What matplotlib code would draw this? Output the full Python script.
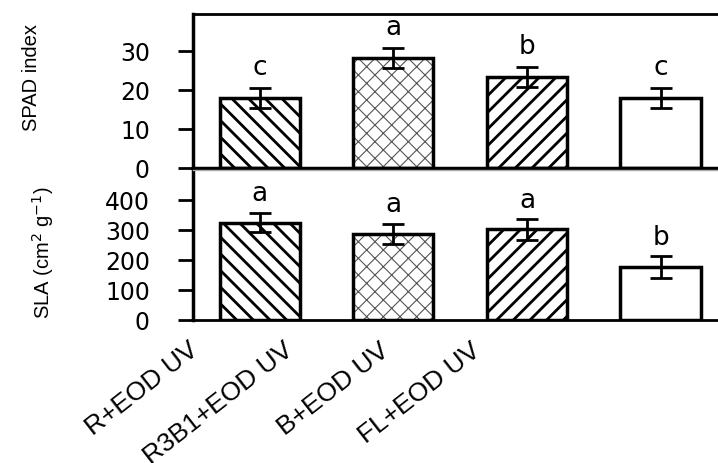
import matplotlib
matplotlib.use("Agg")
import matplotlib.pyplot as plt
from matplotlib.transforms import ScaledTranslation

categories = ["R+EOD UV", "R3B1+EOD UV", "B+EOD UV", "FL+EOD UV"]
spad_values = [17.9, 28.2, 23.3, 17.9]
spad_errors = [2.6, 2.6, 2.6, 2.6]
spad_letters = ["c", "a", "b", "c"]
sla_values = [325, 288, 302, 177]
sla_errors = [33, 33, 34, 36]
sla_letters = ["a", "a", "a", "b"]
spad_ticks = [0, 10, 20, 30]
sla_ticks = [0, 100, 200, 300, 400]

hatches = ["\\\\", "xx", "//", ""]
hatch_colors = ["black", "#555555", "black", "black"]
hatch_lws = [2.0, 0.8, 2.0, 1.0]

W, H = 718, 463
fig = plt.figure(figsize=(W / 100, H / 100), dpi=100)
ax1 = fig.add_axes([193 / W, 1 - 168 / H, 1 - 193 / W, 154 / H])
ax2 = fig.add_axes([193 / W, 1 - 320 / H, 1 - 193 / W, 150 / H])

x = list(range(len(categories)))
bw = 0.6


def draw(ax, vals, errs, letters, ticks, ylim, ylabel, lab_x, lab_y, lab_off):
    for i, (v, e) in enumerate(zip(vals, errs)):
        with plt.rc_context({"hatch.linewidth": hatch_lws[i]}):
            ax.bar(x[i], v, bw, color="white", edgecolor=hatch_colors[i],
                   hatch=hatches[i], linewidth=0, zorder=2)
        ax.bar(x[i], v, bw, fill=False, edgecolor="black", linewidth=2.5, zorder=3)
        ax.errorbar(x[i], v, yerr=e, fmt="none", ecolor="black", elinewidth=2,
                    capsize=8, capthick=2, zorder=4)
        ax.annotate(letters[i], (x[i], v + e), xytext=(0, lab_off),
                    textcoords="offset points", ha="center", va="bottom",
                    fontsize=19, family="DejaVu Sans")
    ax.set_xlim(-0.5, 3.43)
    ax.set_ylim(*ylim)
    ax.set_yticks(ticks)
    ax.set_yticklabels([str(t) for t in ticks], fontsize=17, family="DejaVu Sans")
    ax.tick_params(axis="y", length=11, width=2, pad=20, direction="out")
    ax.spines["right"].set_visible(False)
    ax.spines["left"].set_linewidth(2.5)
    ax.spines["bottom"].set_linewidth(2.5)
    ax.set_ylabel(ylabel, fontsize=14.5, family="Liberation Sans")
    ax.yaxis.set_label_coords(lab_x, lab_y)


draw(ax1, spad_values, spad_errors, spad_letters, spad_ticks, (0, 39.5),
     "SPAD index", -0.29, 0.59, 5)
ax1.spines["top"].set_linewidth(2)
ax1.set_xticks([])

draw(ax2, sla_values, sla_errors, sla_letters, sla_ticks, (0, 500),
     "SLA (cm$^2$ g$^{-1}$)", -0.26, 0.447, 4)
ax2.spines["top"].set_linewidth(1)
ax2.spines["top"].set_color("#aaaaaa")
ax2.spines["bottom"].set_linewidth(2)
ax2.set_xticks(x)
ax2.set_xticklabels(categories, fontsize=19, family="Liberation Sans",
                    rotation=38, ha="right", va="top", rotation_mode="anchor")
ax2.tick_params(axis="x", length=0, pad=13)
shifts = [72, 110, 148, 190]
for lab, s in zip(ax2.get_xticklabels(), shifts):
    lab.set_transform(lab.get_transform() + ScaledTranslation(-s / 100, 0, fig.dpi_scale_trans))

fig.savefig("out.png", dpi=100)
